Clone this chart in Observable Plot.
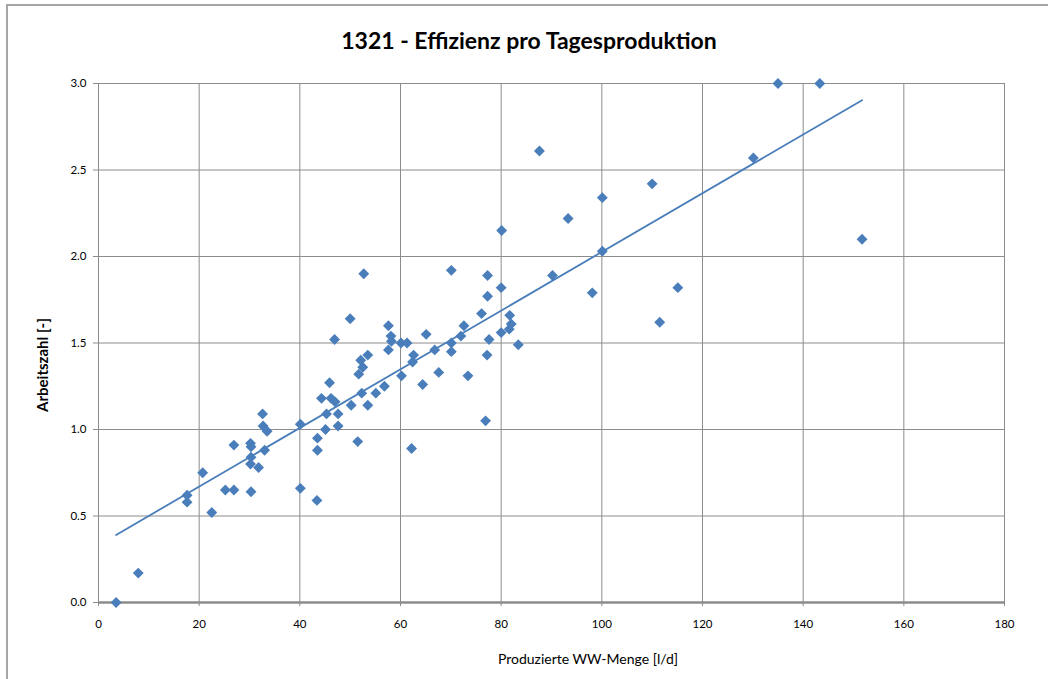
<!DOCTYPE html>
<html>
<head>
<meta charset="utf-8">
<script src="https://cdn.jsdelivr.net/npm/d3@7"></script>
<script src="https://cdn.jsdelivr.net/npm/@observablehq/plot@0.6"></script>
<style>
  html, body { margin: 0; padding: 0; background: #fff; }
  #wrap { position: relative; width: 1048px; height: 679px; overflow: hidden; font-family: Lato, "Open Sans", sans-serif; }
  #border { position: absolute; left: 6px; top: 4px; width: 1100px; height: 800px; border-left: 2px solid #a6a6a6; border-top: 2px solid #a6a6a6; box-sizing: border-box; }
  #title { position: absolute; left: 0; width: 1058px; top: 26px; text-align: center; font-weight: bold; font-size: 23px; color: #000; }
  #xlabel { position: absolute; left: 0; width: 1176px; top: 650px; text-align: center; font-size: 14px; color: #000; }
  #ylabel { position: absolute; left: 42px; top: 365px; transform: translate(-50%, -50%) rotate(-90deg); font-weight: bold; font-size: 15px; white-space: nowrap; color: #000; }
  #chart { position: absolute; left: 0; top: 0; }
</style>
</head>
<body>
<div id="wrap">
  <div id="border"></div>
  <div id="chart"></div>
  <div id="title">1321 - Effizienz pro Tagesproduktion</div>
  <div id="xlabel">Produzierte WW-Menge [l/d]</div>
  <div id="ylabel">Arbeitszahl [-]</div>
</div>
<script>
const menge = [3.5, 7.9, 17.6, 17.6, 20.7, 22.5, 25.2, 26.9, 26.9, 30.3, 30.2, 30.3, 30.3, 30.2, 31.8, 32.6, 32.7, 33.5, 33.0,
  40.1, 40.1, 43.4, 43.5, 43.5, 45.1, 44.3, 45.3, 45.9, 46.2, 47.0, 46.9, 47.6, 47.6, 50.0, 50.2, 51.5, 51.7, 52.1, 52.5, 52.3,
  52.7, 53.5, 53.5, 55.1, 56.8, 57.6, 57.6, 58.1, 58.2, 60.1, 60.2, 61.3, 62.2, 62.6, 62.4, 64.4, 65.1, 66.8, 67.6, 70.1, 70.1,
  70.1, 72.0, 72.6, 73.4, 76.1, 76.9, 77.2, 77.3, 77.3, 77.6, 80.0, 80.1, 80.0, 81.6, 81.7, 82.0, 83.4, 87.6, 90.2, 93.3, 98.1,
  100.1, 100.1, 110.0, 111.5, 115.1, 130.1, 135.0, 143.3, 151.7];
const arbeitszahl = [0.00, 0.17, 0.62, 0.58, 0.75, 0.52, 0.65, 0.65, 0.91, 0.64, 0.92, 0.90, 0.84, 0.80, 0.78, 1.09, 1.02, 0.99, 0.88,
  1.03, 0.66, 0.59, 0.88, 0.95, 1.00, 1.18, 1.09, 1.27, 1.18, 1.16, 1.52, 1.09, 1.02, 1.64, 1.14, 0.93, 1.32, 1.40, 1.36, 1.21,
  1.90, 1.43, 1.14, 1.21, 1.25, 1.60, 1.46, 1.54, 1.51, 1.50, 1.31, 1.50, 0.89, 1.43, 1.39, 1.26, 1.55, 1.46, 1.33, 1.92, 1.50,
  1.45, 1.54, 1.60, 1.31, 1.67, 1.05, 1.43, 1.89, 1.77, 1.52, 1.82, 2.15, 1.56, 1.58, 1.66, 1.61, 1.49, 2.61, 1.89, 2.22, 1.79,
  2.34, 2.03, 2.42, 1.62, 1.82, 2.57, 3.00, 3.00, 2.10];
const xTicks = [0, 20, 40, 60, 80, 100, 120, 140, 160, 180];
const yTicks = [0, 0.5, 1.0, 1.5, 2.0, 2.5, 3.0];

const data = menge.map((x, i) => ({x, y: arbeitszahl[i]}));
const blue = "#4a7ebb";
const grid = "#8c8c8c";

const plot = Plot.plot({
  width: 1048,
  height: 679,
  marginTop: 83,
  marginBottom: 77,
  marginLeft: 98,
  marginRight: 44,
  style: {fontFamily: "Lato, 'Open Sans', sans-serif", fontSize: "11px", color: "#000", background: "transparent", overflow: "visible"},
  x: {domain: [0, 180], ticks: xTicks, label: null},
  y: {domain: [0, 3], ticks: yTicks, label: null, tickFormat: d3.format(".1f")},
  marks: [
    Plot.gridX(xTicks, {stroke: grid, strokeOpacity: 1, strokeWidth: 1}),
    Plot.gridY(yTicks, {stroke: grid, strokeOpacity: 1, strokeWidth: 1}),
    Plot.axisX(xTicks, {tickSize: 4, tickPadding: 13, stroke: grid, fontSize: 11.5}),
    Plot.axisY(yTicks, {tickSize: 5, tickPadding: 7, stroke: grid, fontSize: 11.5, tickFormat: d3.format(".1f")}),
    Plot.ruleY([0], {stroke: grid, strokeWidth: 2.5}),
    Plot.ruleX([0], {stroke: grid, strokeWidth: 1}),
    Plot.dot(data, {x: "x", y: "y", symbol: "diamond2", r: 4.9, fill: blue, stroke: "none"}),
    Plot.linearRegressionY(data, {x: "x", y: "y", ci: 0, stroke: blue, strokeWidth: 1.8})
  ]
});
document.getElementById("chart").appendChild(plot);
</script>
</body>
</html>
